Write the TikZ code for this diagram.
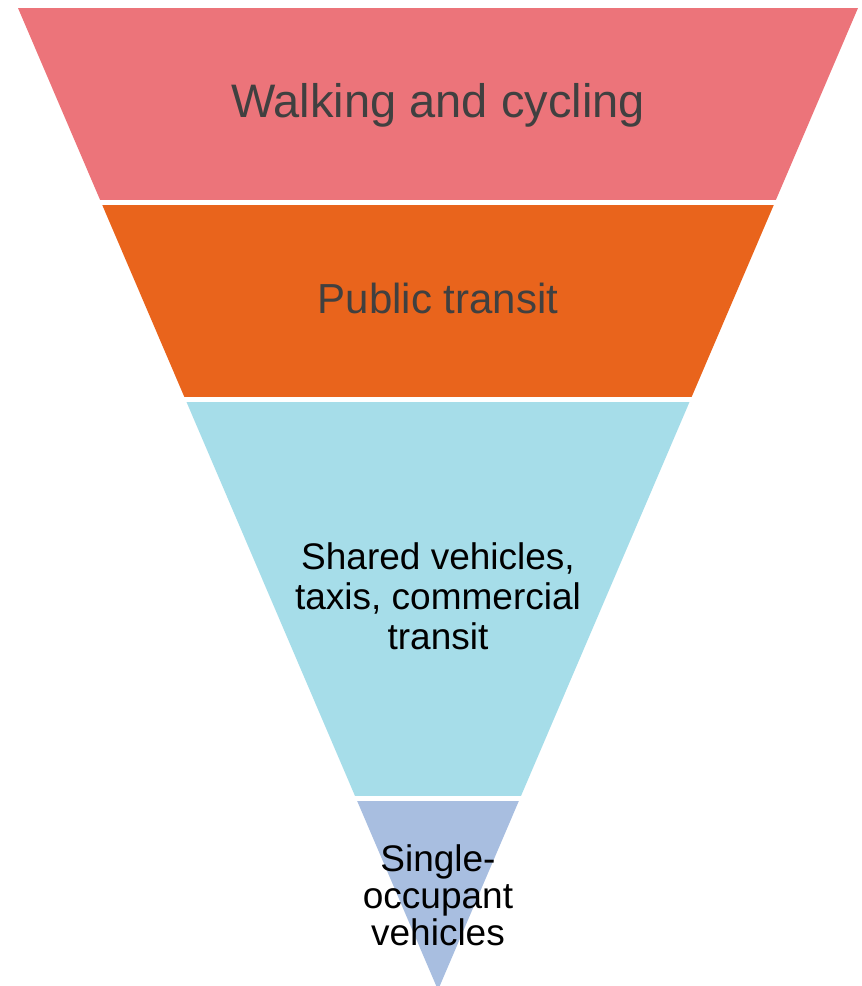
\documentclass[tikz,border=0pt]{standalone}
\usepackage{fontspec}
\setmainfont{Liberation Sans}
\definecolor{walkcol}{HTML}{EC747A}
\definecolor{transitcol}{HTML}{E9641C}
\definecolor{sharedcol}{HTML}{A6DDE9}
\definecolor{singlecol}{HTML}{A8BEE0}
\definecolor{labelgray}{HTML}{404040}

\begin{document}
\begin{tikzpicture}[x=1pt, y=-1pt,
    level label/.style={inner sep=0pt, anchor=base, align=center}]
  \useasboundingbox (0,0) rectangle (862,986);
  \begin{scope}
    \clip (18,8) -- (858,8) -- (438,990) -- cycle;
    \fill[walkcol] (0,8) rectangle (862,200);
    \fill[transitcol] (0,205) rectangle (862,397);
    \fill[sharedcol] (0,402) rectangle (862,796);
    \fill[singlecol] (0,801) rectangle (862,990);
  \end{scope}
  \node[level label, text=labelgray, font=\fontsize{47}{52}\selectfont] (walk) at (438,117) {Walking and cycling};
  \node[level label, text=labelgray, font=\fontsize{42}{46}\selectfont] (transit) at (438,313) {Public transit};
  \node[level label, font=\fontsize{37}{40}\selectfont] (shared) at (438,649) {Shared vehicles,\\taxis, commercial\\transit};
  \node[level label, font=\fontsize{37}{37}\selectfont] (single) at (438,945) {Single-\\occupant\\vehicles};
\end{tikzpicture}
\end{document}
